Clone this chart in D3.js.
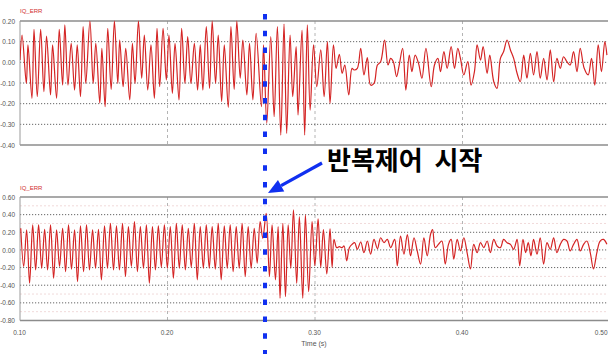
<!DOCTYPE html>
<html>
<head>
<meta charset="utf-8">
<script src="https://cdn.jsdelivr.net/npm/d3@7"></script>
<style>
  body { margin: 0; background: #fff; }
  svg { display: block; }
</style>
</head>
<body>
<svg id="chart" width="608" height="354"></svg>
<script>
// ---- data ----
const xTicks = [0.1, 0.2, 0.3, 0.4, 0.5];
const xTickLabels = ["0.10", "0.20", "0.30", "0.40", "0.50"];
const xTitle = "Time (s)";

const topTicks = [0.2, 0.1, 0, -0.1, -0.2, -0.3, -0.4];
const topTickLabels = ["0.20", "0.10", "0.00", "-0.10", "-0.20", "-0.30", "-0.40"];
const bottomTicks = [0.6, 0.4, 0.2, 0, -0.2, -0.4, -0.6, -0.8];
const bottomTickLabels = ["0.60", "0.40", "0.20", "0.00", "-0.20", "-0.40", "-0.60", "-0.80"];

const seriesName = "IQ_ERR";
const repStart = 0.2661;          // s, start of repetitive control
const annotation = "반복제어 시작";

// upper trace: time (ms), value
const topTimeMs = [
  100.0, 101.4, 104.3, 105.4, 108.1, 109.5, 111.7, 114.0, 116.2, 118.0,
  120.7, 122.1, 124.8, 126.6, 128.9, 130.4, 132.5, 134.7, 137.0, 138.8,
  141.0, 142.8, 144.6, 147.4, 149.6, 151.4, 154.1, 155.5, 157.7, 159.5,
  161.8, 164.0, 166.3, 167.6, 169.9, 171.7, 174.4, 176.2, 178.0, 180.3,
  182.5, 184.3, 186.6, 188.8, 191.1, 192.9, 194.7, 197.0, 199.2, 201.0,
  203.3, 205.1, 207.8, 209.6, 211.8, 213.7, 215.9, 218.2, 220.4, 222.2,
  224.0, 226.3, 228.5, 230.3, 232.6, 234.4, 236.7, 238.5, 241.2, 243.0,
  245.2, 247.0, 249.3, 251.1, 253.8, 255.6, 257.9, 260.1, 263.7, 265.1,
  267.3, 270.0, 272.3, 274.5, 276.8, 279.0, 280.8, 283.1, 284.9, 287.2,
  288.5, 291.2, 293.0, 294.8, 296.7, 299.0, 301.2, 303.9, 306.2, 308.4,
  310.2, 312.5, 314.3, 316.5, 318.4, 320.2, 322.9, 325.1, 326.5, 328.7,
  331.0, 333.2, 335.5, 337.7, 340.0, 342.3, 344.5, 347.2, 349.5, 351.3,
  353.1, 355.3, 357.1, 359.4, 361.6, 363.9, 365.7, 367.9, 370.2, 372.5,
  375.2, 378.8, 381.0, 383.3, 385.1, 387.4, 389.6, 392.3, 394.6, 396.8,
  398.6, 400.9, 403.6, 405.8, 408.1, 409.9, 412.2, 414.0, 416.7, 418.5,
  421.2, 423.4, 425.7, 427.9, 430.2, 432.5, 434.7, 437.0, 439.2, 441.5,
  443.7, 446.0, 448.2, 450.5, 452.7, 455.0, 457.3, 459.5, 461.8, 464.0,
  466.3, 468.5, 470.8, 473.0, 475.3, 477.6, 479.8, 482.5, 485.2, 487.5,
  489.7, 492.0, 494.2, 496.5, 497.9
];
const topValues = [
  0.011, 0.132, -0.102, 0.084, -0.174, 0.160, -0.166, 0.160, -0.142, 0.127,
  -0.158, 0.084, -0.174, 0.160, -0.110, 0.181, -0.110, 0.092, -0.134, 0.084,
  -0.166, 0.173, -0.102, 0.200, -0.102, 0.092, -0.198, 0.068, -0.215, 0.165,
  -0.131, 0.200, -0.102, 0.108, -0.118, 0.068, -0.182, 0.092, -0.102, 0.200,
  -0.077, 0.132, -0.134, 0.084, -0.174, 0.165, -0.118, 0.165, -0.085, 0.132,
  -0.150, 0.092, -0.182, 0.165, -0.102, 0.124, -0.102, 0.092, -0.134, 0.084,
  -0.134, 0.173, -0.126, 0.200, -0.102, 0.132, -0.190, 0.084, -0.218, 0.173,
  -0.131, 0.200, -0.077, 0.108, -0.158, 0.092, -0.182, 0.140, -0.215, 0.084,
  -0.295, 0.124, -0.263, 0.173, -0.352, 0.185, -0.344, 0.132, -0.166, 0.076,
  -0.255, 0.156, -0.352, 0.181, -0.231, 0.084, -0.118, 0.060, -0.166, 0.100,
  -0.198, 0.084, -0.029, 0.039, -0.053, -0.013, -0.158, -0.029, -0.037, -0.029,
  0.068, -0.061, 0.023, -0.110, -0.102, -0.013, 0.003, 0.108, -0.013, 0.019,
  0.003, -0.069, -0.013, 0.068, -0.134, 0.035, -0.045, 0.035, -0.005, -0.077,
  0.068, -0.118, -0.013, 0.019, -0.045, 0.052, -0.029, 0.076, -0.029, 0.068,
  0.019, -0.061, 0.003, -0.110, -0.045, 0.084, 0.011, 0.076, -0.053, 0.035,
  -0.094, -0.126, 0.019, 0.052, 0.108, 0.060, 0.019, -0.053, -0.094, 0.035,
  -0.077, 0.044, -0.061, 0.052, -0.077, 0.019, -0.085, 0.060, -0.094, 0.019,
  -0.029, 0.027, 0.003, -0.013, 0.052, -0.045, 0.068, -0.029, -0.061, 0.019,
  -0.110, 0.084, -0.045, 0.100, 0.035
];

// lower trace: time (ms), value
const bottomTimeMs = [
  100.5, 102.5, 104.5, 106.5, 108.6, 110.6, 112.6, 114.7, 116.7, 118.7,
  120.7, 122.8, 124.8, 126.8, 128.9, 130.9, 132.9, 134.9, 137.0, 139.0,
  141.0, 143.1, 145.1, 147.1, 149.2, 151.2, 153.2, 155.2, 157.3, 159.3,
  161.3, 163.4, 165.4, 167.4, 169.5, 171.5, 173.5, 175.5, 177.6, 179.6,
  181.6, 183.7, 185.7, 187.7, 189.8, 191.8, 193.8, 195.8, 197.9, 199.9,
  201.9, 204.0, 206.0, 208.0, 210.0, 212.1, 214.1, 216.1, 218.2, 220.2,
  222.2, 224.3, 226.3, 228.3, 230.3, 232.4, 234.4, 236.4, 238.5, 240.5,
  242.5, 244.5, 246.6, 248.6, 250.6, 252.7, 254.7, 256.7, 258.8, 260.8,
  262.8, 264.6, 266.9, 269.1, 270.9, 273.2, 275.0, 276.3, 278.2, 280.0,
  281.8, 283.6, 285.4, 287.6, 289.4, 291.7, 293.5, 295.7, 298.0, 299.9,
  302.1, 303.9, 305.7, 308.0, 310.2, 311.6, 312.9, 314.7, 316.5, 318.4,
  319.7, 321.5, 323.3, 325.1, 326.9, 328.7, 331.0, 333.2, 335.5, 337.7,
  340.0, 342.3, 344.5, 346.8, 349.0, 351.3, 354.0, 355.8, 358.0, 360.3,
  362.6, 364.8, 367.1, 369.3, 371.6, 373.8, 376.1, 378.3, 379.7, 381.5,
  383.7, 386.0, 388.3, 390.5, 392.3, 394.1, 396.4, 398.6, 400.9, 403.1,
  405.4, 407.6, 409.9, 412.2, 414.4, 416.7, 418.9, 421.2, 423.4, 425.7,
  427.9, 430.2, 432.5, 434.7, 437.0, 438.8, 441.0, 442.8, 444.6, 446.4,
  448.2, 450.5, 452.7, 455.0, 457.3, 459.5, 461.8, 464.0, 466.3, 468.5,
  470.8, 473.0, 475.3, 477.6, 479.8, 482.1, 484.3, 486.6, 488.8, 491.1,
  493.3, 495.6, 497.9
];
const bottomValues = [
  0.246, -0.189, 0.227, -0.378, 0.284, -0.227, 0.284, -0.208, 0.234, -0.227,
  0.284, -0.321, 0.227, -0.189, 0.246, -0.246, 0.284, -0.219, 0.227, -0.359,
  0.272, -0.246, 0.284, -0.227, 0.227, -0.208, 0.234, -0.340, 0.272, -0.208,
  0.302, -0.227, 0.272, -0.227, 0.302, -0.302, 0.265, -0.189, 0.321, -0.246,
  0.265, -0.208, 0.284, -0.378, 0.265, -0.227, 0.272, -0.197, 0.284, -0.208,
  0.265, -0.321, 0.302, -0.208, 0.284, -0.227, 0.246, -0.197, 0.302, -0.340,
  0.265, -0.208, 0.284, -0.208, 0.265, -0.219, 0.302, -0.340, 0.272, -0.208,
  0.284, -0.246, 0.265, -0.208, 0.302, -0.302, 0.265, -0.208, 0.246, -0.151,
  0.321, 0.132, 0.416, -0.302, 0.284, -0.340, 0.265, -0.548, 0.302, -0.529,
  0.284, -0.208, 0.454, -0.378, 0.378, -0.548, 0.397, -0.473, 0.321, -0.179,
  0.351, -0.198, 0.231, -0.272, 0.239, -0.198, 0.119, 0.026, 0.037, 0.026,
  0.045, -0.123, 0.026, 0.063, 0.082, 0.007, 0.090, -0.030, 0.101, -0.048,
  0.119, 0.015, 0.138, 0.082, 0.119, 0.026, 0.119, -0.179, 0.157, -0.048,
  0.175, -0.067, 0.138, -0.011, -0.160, 0.138, -0.067, 0.175, 0.231, 0.026,
  0.063, 0.101, -0.160, 0.063, 0.119, -0.104, 0.119, -0.011, 0.138, -0.030,
  -0.216, 0.063, -0.030, 0.082, 0.026, 0.101, -0.030, 0.119, 0.045, 0.026,
  0.119, 0.082, 0.063, 0.007, 0.119, -0.179, 0.119, -0.030, 0.082, -0.067,
  0.119, -0.048, 0.138, -0.160, 0.082, 0.007, 0.138, -0.030, 0.063, 0.119,
  0.101, -0.011, 0.063, 0.119, -0.011, 0.063, 0.101, -0.030, -0.216, -0.030,
  0.101, 0.119, 0.063
];

// ---- layout ----
const width = 608, height = 354;
const left = 20, right = 610;

const panels = [
  { name: "top", times: topTimeMs, values: topValues, ticks: topTicks, labels: topTickLabels,
    top: 21, bottom: 145, labelY: 13, faint: false },
  { name: "bottom", times: bottomTimeMs, values: bottomValues, ticks: bottomTicks, labels: bottomTickLabels,
    top: 197, bottom: 320.5, labelY: 190, faint: true }
];

const svg = d3.select("#chart");
const tickFont = "'Liberation Sans Narrow', 'Liberation Sans', Arial, sans-serif";

const x = d3.scaleLinear().domain([0.1, 0.5]).range([left, right]);

panels.forEach(p => {
  const y = d3.scaleLinear()
    .domain(d3.extent(p.ticks))
    .range([p.bottom, p.top]);

  const g = svg.append("g").attr("class", "panel-" + p.name);

  // faint in-between rows (bottom panel)
  if (p.faint) {
    const mids = p.ticks.slice(1).map((d, i) => (d + p.ticks[i]) / 2);
    g.selectAll(".faint")
      .data(mids)
      .enter().append("line")
      .attr("x1", left).attr("x2", width)
      .attr("y1", d => y(d)).attr("y2", d => y(d))
      .attr("stroke", "#f1dada")
      .attr("stroke-dasharray", "2 2");
  }

  // vertical dashed grid
  g.selectAll(".vgrid")
    .data(xTicks.slice(1, -1))
    .enter().append("line")
    .attr("x1", d => x(d)).attr("x2", d => x(d))
    .attr("y1", p.top).attr("y2", p.bottom)
    .attr("stroke", "#b4b4b4")
    .attr("stroke-dasharray", "3 3");

  // horizontal dotted grid
  g.selectAll(".hgrid")
    .data(p.ticks.slice(1, -1))
    .enter().append("line")
    .attr("x1", left).attr("x2", width)
    .attr("y1", d => y(d)).attr("y2", d => y(d))
    .attr("stroke", "#666")
    .attr("stroke-dasharray", "1.2 1.8");

  // frame
  [p.top, p.bottom].forEach(yy => {
    g.append("line")
      .attr("x1", left).attr("x2", width)
      .attr("y1", yy).attr("y2", yy)
      .attr("stroke", "#8c8c8c").attr("stroke-width", 1.5);
  });
  g.append("line")
    .attr("x1", left).attr("x2", left)
    .attr("y1", p.top).attr("y2", p.bottom)
    .attr("stroke", "#9a9a9a").attr("stroke-width", 1);

  // y axis labels
  const yAxis = d3.axisLeft(y)
    .tickValues(p.ticks)
    .tickSize(0)
    .tickPadding(5)
    .tickFormat((d, i) => p.labels[i]);
  const ya = g.append("g")
    .attr("transform", "translate(" + left + ",0)")
    .call(yAxis);
  ya.select(".domain").remove();
  ya.selectAll("text")
    .attr("font-family", tickFont)
    .attr("font-size", 6.5)
    .attr("fill", "#555");

  // series name
  g.append("text")
    .attr("x", left).attr("y", p.labelY)
    .attr("font-family", tickFont)
    .attr("font-size", 6)
    .attr("fill", "#d03030")
    .text(seriesName);

  // trace
  const clipId = "clip-" + p.name;
  svg.append("clipPath").attr("id", clipId)
    .append("rect")
    .attr("x", left).attr("y", p.top - 1)
    .attr("width", width - left).attr("height", p.bottom - p.top + 2);

  const pts = p.times.map((t, i) => [t / 1000, p.values[i]]);
  const line = d3.line()
    .x(d => x(d[0]))
    .y(d => y(d[1]))
    .curve(d3.curveCatmullRom.alpha(0.5));

  g.append("path")
    .datum(pts)
    .attr("clip-path", "url(#" + clipId + ")")
    .attr("fill", "none")
    .attr("stroke", "#d42424")
    .attr("stroke-width", 1.2)
    .attr("stroke-linejoin", "round")
    .attr("d", line);
});

// x axis (under the lower panel)
const xAxis = d3.axisBottom(x)
  .tickValues(xTicks)
  .tickSize(0)
  .tickPadding(10)
  .tickFormat((d, i) => xTickLabels[i]);
const xa = svg.append("g")
  .attr("transform", "translate(-1," + panels[1].bottom + ")")
  .call(xAxis);
xa.select(".domain").remove();
xa.selectAll("text")
  .attr("font-family", tickFont)
  .attr("font-size", 6.5)
  .attr("fill", "#555");
// last label sits at the right edge: keep it inside the page
xa.selectAll("text")
  .filter((d, i) => i === xTicks.length - 1)
  .attr("text-anchor", "end")
  .attr("x", width - x(0.5));

svg.append("text")
  .attr("x", x(0.3) - 1).attr("y", 346)
  .attr("text-anchor", "middle")
  .attr("font-family", tickFont)
  .attr("font-size", 7)
  .attr("fill", "#555")
  .text(xTitle);

// start-of-repetitive-control marker
const xr = x(repStart);
svg.append("line")
  .attr("x1", xr).attr("x2", xr)
  .attr("y1", 14).attr("y2", height)
  .attr("stroke", "#1030f0")
  .attr("stroke-width", 4)
  .attr("stroke-dasharray", "5.5 11.3");

// annotation arrow + label
const tip = [xr + 3, panels[1].top - 4];
const tail = [322, 163];
const ang = Math.atan2(tip[1] - tail[1], tip[0] - tail[0]);
const headLen = 15, headW = 6.5;
const base = [tip[0] - headLen * Math.cos(ang), tip[1] - headLen * Math.sin(ang)];
svg.append("line")
  .attr("x1", tail[0]).attr("y1", tail[1])
  .attr("x2", base[0]).attr("y2", base[1])
  .attr("stroke", "#1030f0")
  .attr("stroke-width", 3.2);
svg.append("path")
  .attr("d", d3.line()([
    tip,
    [base[0] + headW * Math.sin(ang), base[1] - headW * Math.cos(ang)],
    [base[0] - headW * Math.sin(ang), base[1] + headW * Math.cos(ang)]
  ]) + "Z")
  .attr("fill", "#1030f0");

svg.append("text")
  .attr("x", 327).attr("y", 170)
  .attr("font-family", "'Noto Sans CJK KR', sans-serif")
  .attr("font-size", 26)
  .attr("font-weight", 700)
  .attr("word-spacing", 6)
  .attr("fill", "#000")
  .text(annotation);
</script>
</body>
</html>
